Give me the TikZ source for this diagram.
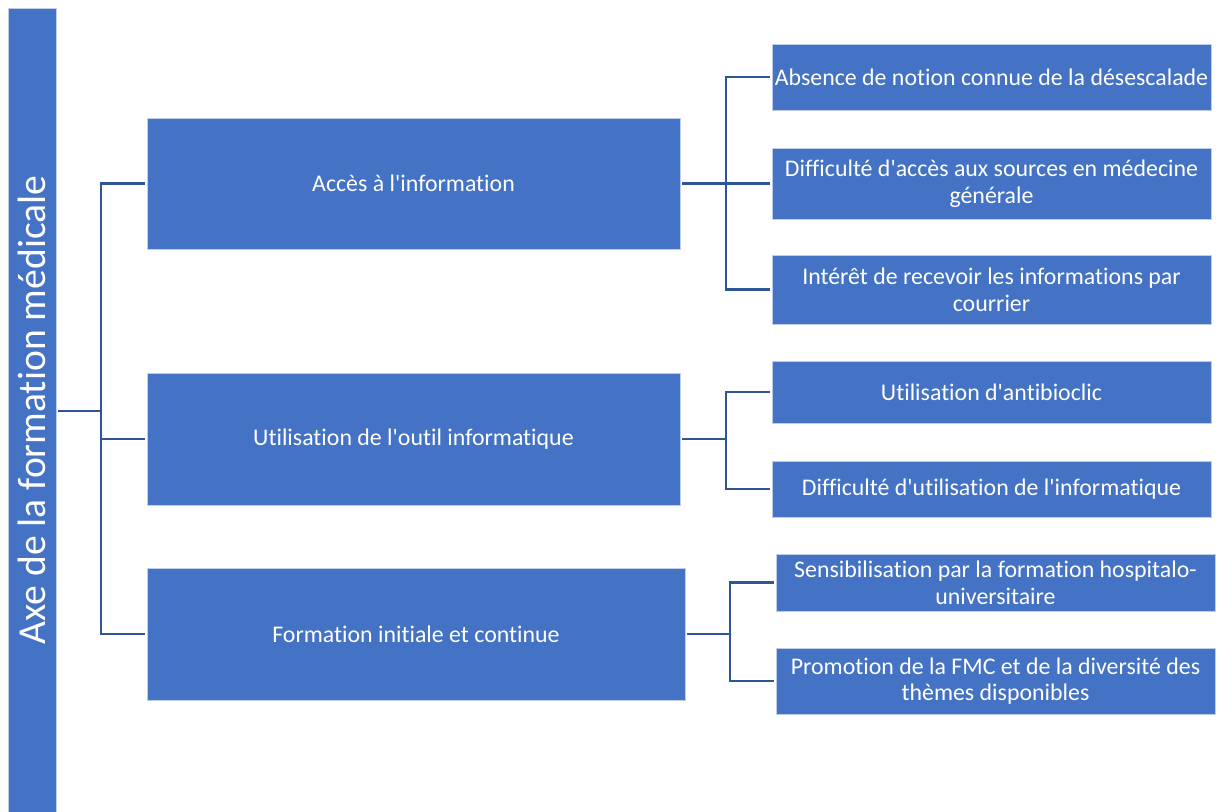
\documentclass[tikz,border=0pt]{standalone}
\usepackage{fontspec}
\setmainfont{Carlito}[Ligatures={TeXOff,NoCommon}]
\usepackage{tikz}

\definecolor{bleu}{RGB}{68,114,196}
\definecolor{trait}{RGB}{47,85,151}
\definecolor{bord}{RGB}{190,206,234}

\begin{document}
\begin{tikzpicture}[x=0.75pt, y=-0.75pt,
    main/.style = {draw=bord, line width=0.6pt, fill=bleu, text=white, inner sep=0pt, outer sep=1.5pt,
                   align=center, font=\fontsize{17.9}{20}\selectfont},
    lien/.style = {draw=trait, line width=1.6pt}]

    \useasboundingbox (0,0) rectangle (1217,811);

    \node[main, minimum width=36pt, minimum height=603pt] (axe) at (32,410)
        {\rotatebox{90}{\fontsize{29.7}{32}\selectfont Axe de la formation médicale}};

    \node[main, minimum width=399.75pt, minimum height=98.25pt] (1) at (413.5,183.5) {Accès à l'information};
    \node[main, minimum width=399.75pt, minimum height=99pt] (2) at (413.5,439) {Utilisation de l'outil informatique};
    \node[main, minimum width=403.5pt, minimum height=99pt] (3) at (416,634) {Formation initiale et continue};

    \node[main, minimum width=329.25pt, minimum height=49.5pt] (11) at (991.5,77) {Absence de notion connue de la désescalade};
    \node[main, minimum width=329.25pt, minimum height=53.25pt] (12) at (991.5,183.5) {Difficulté d'accès aux sources en médecine\\générale};
    \node[main, minimum width=329.25pt, minimum height=51.75pt] (13) at (991.5,289.5) {Intérêt de recevoir les informations par\\courrier};
    \node[main, minimum width=329.25pt, minimum height=46.5pt] (21) at (991.5,392) {Utilisation d'antibioclic};
    \node[main, minimum width=329.25pt, minimum height=42pt] (22) at (991.5,489) {Difficulté d'utilisation de l'informatique};
    \node[main, minimum width=329.25pt, minimum height=42.75pt] (31) at (995.5,582.5) {Sensibilisation par la formation hospitalo-\\universitaire};
    \node[main, minimum width=329.25pt, minimum height=49.5pt] (32) at (995.5,681) {Promotion de la FMC et de la diversité des\\thèmes disponibles};

    \coordinate (j0) at (101,411);
    \coordinate (j1) at (726,183.5);
    \coordinate (j2) at (726,439);
    \coordinate (j3) at (730,634);

    \draw[lien] (axe.east |- j0) -- (j0);
    \draw[lien] (j0) |- (1.west);
    \draw[lien] (j0) |- (2.west);
    \draw[lien] (j0) |- (3.west);

    \draw[lien] (1.east) -- (j1);
    \draw[lien] (j1) |- (11.west);
    \draw[lien] (j1) |- (12.west);
    \draw[lien] (j1) |- (13.west);

    \draw[lien] (2.east) -- (j2);
    \draw[lien] (j2) |- (21.west);
    \draw[lien] (j2) |- (22.west);

    \draw[lien] (3.east) -- (j3);
    \draw[lien] (j3) |- (31.west);
    \draw[lien] (j3) |- (32.west);
\end{tikzpicture}
\end{document}
